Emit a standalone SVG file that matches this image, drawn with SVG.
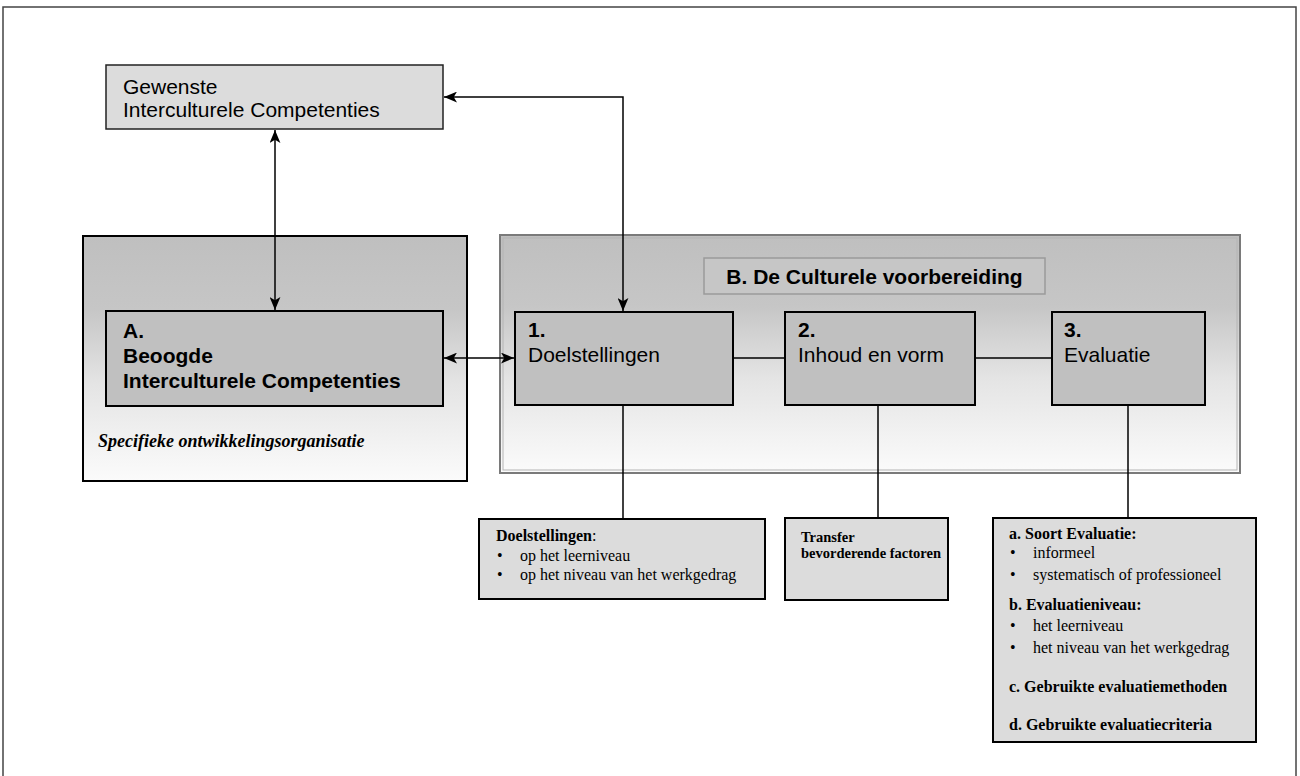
<svg xmlns="http://www.w3.org/2000/svg" width="1300" height="776" viewBox="0 0 1300 776">
<defs>
<linearGradient id="grad" x1="0" y1="0" x2="0" y2="1">
<stop offset="0" stop-color="#bfbfbf"/>
<stop offset="0.3" stop-color="#c6c6c6"/>
<stop offset="0.6" stop-color="#e4e4e4"/>
<stop offset="1" stop-color="#fbfbfb"/>
</linearGradient>
<marker id="arr" viewBox="0 0 12 10" refX="12" refY="5" markerWidth="13" markerHeight="11" markerUnits="userSpaceOnUse" orient="auto-start-reverse">
<path d="M0,0 L12,5 L0,10 L3,5 z" fill="#000"/>
</marker>
</defs>
<style>
.sans{font-family:"Liberation Sans",Arial,sans-serif;fill:#000;font-size:21px}
.serif{font-family:"Liberation Serif","Times New Roman",serif;fill:#000;font-size:16px}
.inner{fill:#c0c0c0;stroke:#000;stroke-width:2}
.light{fill:#dcdcdc;stroke:#000;stroke-width:2}
.conn{fill:none;stroke:#000;stroke-width:1.5}
.b{font-weight:bold}
</style>
<rect x="3" y="7" width="1293" height="790" fill="#fff" stroke="#444" stroke-width="1.5"/>

<g id="gewenste">
<rect x="106" y="65" width="337" height="64" fill="#dcdcdc" stroke="#222" stroke-width="1.5"/>
<text class="sans" x="123" y="94">Gewenste</text>
<text class="sans" x="123" y="117">Interculturele Competenties</text>
</g>

<g id="organisatie">
<rect x="83" y="236" width="384" height="245" fill="url(#grad)" stroke="#000" stroke-width="2"/>
<text class="serif b" font-style="italic" style="font-size:18px" x="98" y="447">Specifieke ontwikkelingsorganisatie</text>
</g>

<g id="beoogde">
<rect class="inner" x="106" y="311" width="337" height="95"/>
<text class="sans b" x="123" y="338">A.</text>
<text class="sans b" x="123" y="363">Beoogde</text>
<text class="sans b" x="123" y="388">Interculturele Competenties</text>
</g>

<g id="voorbereiding">
<rect x="500" y="235" width="740" height="238" fill="url(#grad)" stroke="#7a7a7a" stroke-width="2"/>
<rect x="503" y="238" width="734" height="232" fill="none" stroke="#b4b4b4" stroke-width="1"/>
<rect x="704" y="258" width="341" height="36" fill="#c6c6c6" stroke="#9a9a9a" stroke-width="1.5"/>
<text class="sans b" x="874.5" y="284" text-anchor="middle">B. De Culturele voorbereiding</text>
</g>

<g id="doelstellingen">
<rect class="inner" x="515" y="312" width="218" height="93"/>
<text class="sans b" x="528" y="337">1.</text>
<text class="sans" x="528" y="362">Doelstellingen</text>
</g>

<g id="inhoud">
<rect class="inner" x="785" y="312" width="190" height="93"/>
<text class="sans b" x="798" y="337">2.</text>
<text class="sans" x="798" y="362">Inhoud en vorm</text>
</g>

<g id="evaluatie">
<rect class="inner" x="1052" y="312" width="153" height="93"/>
<text class="sans b" x="1064" y="337">3.</text>
<text class="sans" x="1064" y="362">Evaluatie</text>
</g>

<g id="doel-detail">
<rect class="light" x="479" y="519" width="286" height="80"/>
<text class="serif" x="496" y="541"><tspan font-weight="bold">Doelstellingen</tspan>:</text>
<text class="serif" x="497" y="561">•</text>
<text class="serif" x="520" y="561">op het leerniveau</text>
<text class="serif" x="497" y="580">•</text>
<text class="serif" x="520" y="580">op het niveau van het werkgedrag</text>
</g>

<g id="transfer">
<rect class="light" x="785" y="518" width="163" height="82"/>
<text class="serif b" style="font-size:14.5px" x="801" y="542">Transfer</text>
<text class="serif b" style="font-size:14.5px" x="801" y="558">bevorderende factoren</text>
</g>

<g id="eval-detail">
<rect class="light" x="993" y="518" width="263" height="224"/>
<text class="serif b" x="1009" y="539">a. Soort Evaluatie:</text>
<text class="serif" x="1010" y="558">•</text>
<text class="serif" x="1033" y="558">informeel</text>
<text class="serif" x="1010" y="580">•</text>
<text class="serif" x="1033" y="580">systematisch of professioneel</text>
<text class="serif b" x="1009" y="610">b. Evaluatieniveau:</text>
<text class="serif" x="1010" y="631">•</text>
<text class="serif" x="1033" y="631">het leerniveau</text>
<text class="serif" x="1010" y="653">•</text>
<text class="serif" x="1033" y="653">het niveau van het werkgedrag</text>
<text class="serif b" x="1009" y="692">c. Gebruikte evaluatiemethoden</text>
<text class="serif b" x="1009" y="730">d. Gebruikte evaluatiecriteria</text>
</g>

<g id="connectors">
<line class="conn" x1="275" y1="130" x2="275" y2="310" marker-start="url(#arr)" marker-end="url(#arr)"/>
<polyline class="conn" points="444,97 623,97 623,311" marker-start="url(#arr)" marker-end="url(#arr)"/>
<line class="conn" x1="444" y1="358" x2="514" y2="358" marker-start="url(#arr)" marker-end="url(#arr)"/>
<line class="conn" x1="733" y1="358" x2="785" y2="358"/>
<line class="conn" x1="975" y1="358" x2="1052" y2="358"/>
<line class="conn" x1="623" y1="405" x2="623" y2="519"/>
<line class="conn" x1="878" y1="405" x2="878" y2="518"/>
<line class="conn" x1="1128" y1="405" x2="1128" y2="518"/>
</g>
</svg>
